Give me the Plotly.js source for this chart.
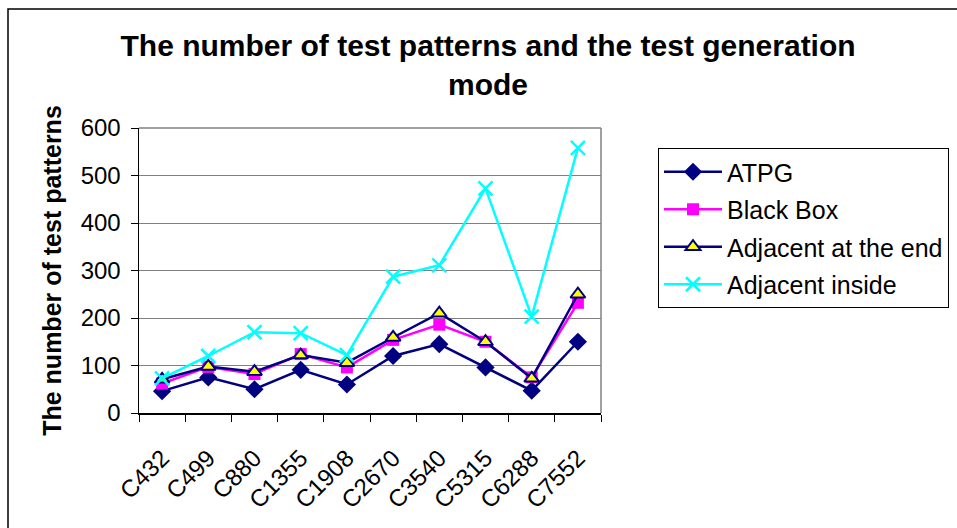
<!DOCTYPE html>
<html>
<head>
<meta charset="utf-8">
<script src="https://cdn.plot.ly/plotly-3.0.1.min.js"></script>
<style>html,body{margin:0;padding:0;background:#fff;}#chart{width:957px;height:528px;}</style>
</head>
<body>
<div id="chart"></div>
<script>
const categories = ["C432","C499","C880","C1355","C1908","C2670","C3540","C5315","C6288","C7552"];
const atpg = [46, 75, 50, 91, 60, 120, 145, 96, 47, 150];
const blackBox = [62, 97, 82, 124, 96, 154, 186, 150, 75, 232];
const adjacentEnd = [71, 98, 87, 122, 106, 159, 210, 150, 73, 250];
const adjacentInside = [73, 120, 170, 168, 122, 287, 311, 473, 203, 558];
const seriesNames = ["ATPG", "Black Box", "Adjacent at the end", "Adjacent inside"];

const font = "Liberation Sans, Arial, sans-serif";

const traces = [
  {x: categories, y: atpg, name: seriesNames[0], legendgroup: "a", mode: "lines+markers",
   line: {color: "#000080", width: 2.5},
   marker: {symbol: "diamond", size: 14, color: "#000080"}},
  {x: categories, y: blackBox, name: seriesNames[1], legendgroup: "b", mode: "lines+markers",
   line: {color: "#FF00FF", width: 2.5},
   marker: {symbol: "square", size: 12, color: "#FF00FF"}},
  {x: categories, y: adjacentEnd, name: seriesNames[2], legendgroup: "c", mode: "lines+markers",
   line: {color: "#000080", width: 2.5},
   marker: {symbol: "triangle-up", size: 13, color: "#FFFF00", line: {color: "#000080", width: 2}}},
  {x: categories, y: adjacentInside, name: seriesNames[3], legendgroup: "d", mode: "lines+markers",
   line: {color: "#00FFFF", width: 2.5},
   marker: {symbol: "x-thin-open", size: 14, color: "#00FFFF", line: {color: "#00FFFF", width: 2.5}}}
];

const layout = {
  width: 957, height: 528,
  margin: {l: 139, r: 356, t: 128, b: 115},
  paper_bgcolor: "#fff", plot_bgcolor: "#fff",
  showlegend: true,
  title: {text: "The number of test patterns and the test generation<br>mode",
          font: {family: font, size: 30, color: "#000", weight: "bold"},
          x: 0.51, xanchor: "center", y: 1 - 56/528, yanchor: "top"},
  xaxis: {type: "category", range: [-0.5, 9.5], tickson: "boundaries",
          ticks: "outside", ticklen: 7, tickcolor: "#000", tickwidth: 1,
          showline: true, linecolor: "#000", linewidth: 1.5, showgrid: false,
          tickangle: -45, ticklabelstandoff: 20,
          tickfont: {family: font, size: 24, color: "#000"}},
  yaxis: {range: [0, 600], dtick: 100, ticks: "outside", ticklen: 7, tickcolor: "#000",
          showline: true, linecolor: "#000", linewidth: 1.5,
          showgrid: true, gridcolor: "#808080", gridwidth: 1, zeroline: false,
          ticklabelstandoff: 5,
          tickfont: {family: font, size: 24, color: "#000"},
          title: {text: "The number of test patterns", standoff: 12,
                  font: {family: font, size: 25, color: "#000", weight: "bold"}}},
  legend: {x: 658/957, xanchor: "left", y: 1 - 148/528, yanchor: "top",
           xref: "container", yref: "container",
           bordercolor: "#000", borderwidth: 1, bgcolor: "#fff",
           tracegroupgap: 2, itemwidth: 58,
           font: {family: font, size: 25, color: "#000"}},
  shapes: [
    {type: "line", xref: "paper", yref: "paper", x0: 0, x1: 1, y0: 1, y1: 1, line: {color: "#808080", width: 1.5}, layer: "below"},
    {type: "line", xref: "paper", yref: "paper", x0: 1, x1: 1, y0: 0, y1: 1, line: {color: "#808080", width: 1.5}, layer: "below"},
    {type: "rect", xref: "paper", yref: "paper",
     x0: (8 - 139) / 462, x1: (970 - 139) / 462, y0: (413 - 540) / 285, y1: (413 - 9) / 285,
     line: {color: "#000", width: 1.5}, fillcolor: "rgba(0,0,0,0)", layer: "below"}
  ]
};

Plotly.newPlot("chart", traces, layout, {displayModeBar: false, staticPlot: true});
</script>
</body>
</html>
